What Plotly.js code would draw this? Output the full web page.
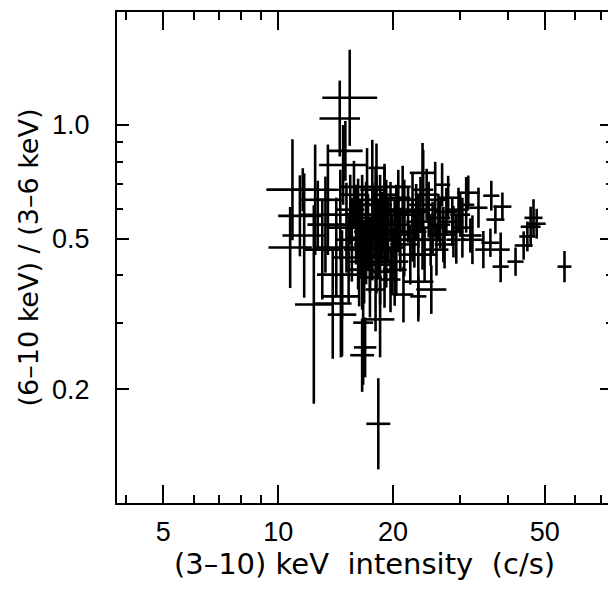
<!DOCTYPE html>
<html>
<head>
<meta charset="utf-8">
<script src="https://cdn.plot.ly/plotly-3.0.1.min.js"></script>
<style>
  html, body { margin: 0; padding: 0; background: #fff; overflow: hidden; }
  #chart { width: 625px; height: 590px; }
</style>
</head>
<body>
<div id="chart"></div>
<script>
// (3-10) keV intensity (c/s)
const intensity = [
  15.4, 14.5, 15.0, 10.9, 11.7, 12.4, 11.4, 10.75, 18.3, 16.9, 16.6, 18.5, 13.9, 14.7,
  56.3, 45.9, 47.6, 45.0, 44.0, 41.9, 46.7, 36.2, 38.7, 37.1, 38.3, 38.3, 34.5, 36.0,
  31.5, 33.5, 31.9, 23.9, 25.8, 23.3, 25.2, 23.3, 21.3, 26.9, 31.1,
  12.5, 13.5, 14.8, 17.65, 17.1, 18.1, 19.0, 21.2, 24.0, 18.0, 11.6,
  14.6, 14.7, 16.3, 18.0, 19.7, 27.1, 28.8, 30.4, 32.3, 16.7, 12.7,
  15.45, 16.0, 16.6, 17.2, 17.65, 18.3, 18.75, 19.2, 19.7, 20.2, 20.65, 21.4, 21.9, 22.5,
  23.3, 23.9, 24.8, 25.4, 26.3, 27.6, 28.6, 29.7, 16.2, 16.8, 17.4, 18.5, 19.4, 20.4,
  15.6, 15.1, 14.55, 14.2, 13.3, 13.05, 18.1, 19.0, 20.65, 22.5, 24.5, 27.9, 17.65, 19.9,
  22.2, 24.2, 26.0, 17.0, 21.4, 23.0, 16.4, 18.75, 26.6, 29.3, 15.3, 20.2, 19.2,
  16.6, 17.4, 19.0, 18.1, 19.9, 20.9, 17.0, 17.9, 16.2, 15.8, 22.75, 25.1, 27.3, 30.0,
  18.5, 20.4, 23.6
];
// (6-10 keV)/(3-6 keV) hardness ratio
const ratio = [
  1.18, 1.04, 0.854, 0.674, 0.51, 0.335, 0.575, 0.474, 0.162, 0.258, 0.246, 0.306, 0.337, 0.315,
  0.422, 0.538, 0.548, 0.507, 0.480, 0.435, 0.568, 0.650, 0.608, 0.562, 0.468, 0.422, 0.468, 0.488,
  0.662, 0.604, 0.51, 0.747, 0.634, 0.385, 0.367, 0.352, 0.356, 0.695, 0.615,
  0.634, 0.634, 0.784, 0.674, 0.634, 0.77, 0.634, 0.634, 0.674, 0.686, 0.674,
  0.352, 0.402, 0.414, 0.367, 0.390, 0.513, 0.522, 0.535, 0.497, 0.30, 0.579,
  0.597, 0.545, 0.615, 0.522, 0.579, 0.497, 0.555, 0.468, 0.589, 0.513, 0.545, 0.483, 0.579, 0.522,
  0.555, 0.497, 0.597, 0.535, 0.568, 0.589, 0.555, 0.597, 0.468, 0.435, 0.454, 0.427, 0.522, 0.435,
  0.497, 0.535, 0.579, 0.474, 0.545, 0.468, 0.615, 0.654, 0.642, 0.634, 0.654, 0.642, 0.483, 0.474,
  0.454, 0.454, 0.468, 0.568, 0.597, 0.589, 0.503, 0.528, 0.545, 0.497, 0.446, 0.414, 0.597,
  0.414, 0.395, 0.409, 0.446, 0.435, 0.497, 0.483, 0.545, 0.579, 0.654, 0.497, 0.497, 0.483, 0.579,
  0.615, 0.579, 0.615
];
// multiplicative 1-sigma error factors (intensity, ratio)
const intensityErrFactor = [
  1.18, 1.13, 1.11, 1.17, 1.14, 1.12, 1.14, 1.14, 1.075, 1.07, 1.075, 1.09, 1.12, 1.09,
  1.043, 1.062, 1.056, 1.05, 1.056, 1.05, 1.056, 1.05, 1.056, 1.056, 1.056, 1.05, 1.05, 1.056,
  1.07, 1.056, 1.07, 1.08, 1.062, 1.095, 1.095, 1.05, 1.062, 1.05, 1.05,
  1.095, 1.088, 1.156, 1.075, 1.062, 1.05, 1.056, 1.056, 1.062, 1.236, 1.243,
  1.12, 1.163, 1.062, 1.062, 1.062, 1.075, 1.062, 1.062, 1.062, 1.062, 1.115,
  1.088, 1.102, 1.075, 1.088, 1.075, 1.088, 1.075, 1.088, 1.075, 1.088, 1.075, 1.088, 1.075, 1.088,
  1.075, 1.075, 1.075, 1.075, 1.075, 1.069, 1.069, 1.062, 1.088, 1.088, 1.075, 1.075, 1.075, 1.075,
  1.102, 1.115, 1.115, 1.128, 1.115, 1.115, 1.088, 1.075, 1.075, 1.075, 1.075, 1.062, 1.075, 1.075,
  1.075, 1.075, 1.075, 1.088, 1.075, 1.075, 1.088, 1.075, 1.062, 1.062, 1.102, 1.075, 1.075,
  1.075, 1.075, 1.075, 1.075, 1.075, 1.075, 1.075, 1.075, 1.088, 1.088, 1.075, 1.075, 1.062, 1.062,
  1.075, 1.075, 1.075
];
const ratioErrFactor = [
  1.34, 1.26, 1.20, 1.36, 1.46, 1.83, 1.28, 1.28, 1.32, 1.20, 1.25, 1.26, 1.40, 1.29,
  1.10, 1.13, 1.095, 1.095, 1.09, 1.09, 1.12, 1.095, 1.09, 1.09, 1.11, 1.10, 1.12, 1.09,
  1.11, 1.13, 1.11, 1.20, 1.26, 1.275, 1.16, 1.13, 1.185, 1.14, 1.185,
  1.40, 1.40, 1.275, 1.355, 1.37, 1.16, 1.245, 1.23, 1.275, 1.13, 1.14,
  1.45, 1.31, 1.25, 1.29, 1.22, 1.185, 1.17, 1.20, 1.16, 1.46, 1.23,
  1.237, 1.275, 1.20, 1.26, 1.215, 1.275, 1.20, 1.26, 1.20, 1.237, 1.185, 1.215, 1.185, 1.20,
  1.171, 1.20, 1.185, 1.171, 1.157, 1.157, 1.157, 1.143, 1.275, 1.29, 1.26, 1.275, 1.215, 1.229,
  1.29, 1.315, 1.315, 1.355, 1.34, 1.355, 1.20, 1.185, 1.185, 1.171, 1.171, 1.143, 1.245, 1.229,
  1.20, 1.185, 1.171, 1.245, 1.20, 1.185, 1.26, 1.229, 1.157, 1.157, 1.315, 1.245, 1.20,
  1.275, 1.275, 1.245, 1.245, 1.229, 1.215, 1.275, 1.229, 1.245, 1.229, 1.185, 1.171, 1.157, 1.143,
  1.20, 1.20, 1.185
];

const xTickVals = [5, 10, 20, 50];
const xTickText = ['5', '10', '20', '50'];
const xMinorVals = [4, 6, 7, 8, 9, 30, 40, 60, 70];
const yTickVals = [0.2, 0.5, 1.0];
const yTickText = ['0.2', '0.5', '1.0'];
const yMinorVals = [0.3, 0.4, 0.6, 0.7, 0.8, 0.9];

const xPlus = intensity.map((v, i) => v * (intensityErrFactor[i] - 1));
const xMinus = intensity.map((v, i) => v * (1 - 1 / intensityErrFactor[i]));
const yPlus = ratio.map((v, i) => v * (ratioErrFactor[i] - 1));
const yMinus = ratio.map((v, i) => v * (1 - 1 / ratioErrFactor[i]));

const trace = {
  type: 'scatter',
  mode: 'markers',
  x: intensity,
  y: ratio,
  marker: { size: 1, color: 'rgba(0,0,0,0)' },
  error_x: { type: 'data', symmetric: false, array: xPlus, arrayminus: xMinus,
             color: '#000', thickness: 2.6, width: 0 },
  error_y: { type: 'data', symmetric: false, array: yPlus, arrayminus: yMinus,
             color: '#000', thickness: 2.6, width: 0 },
  hoverinfo: 'skip',
  showlegend: false
};

const tickFam = '"Liberation Sans", Arial, sans-serif';
const titleFam = '"DejaVu Sans", "Liberation Sans", sans-serif';

const layout = {
  width: 625,
  height: 590,
  margin: { l: 117, r: 13, t: 12, b: 87 },
  paper_bgcolor: '#fff',
  plot_bgcolor: '#fff',
  showlegend: false,
  font: { family: tickFam, color: '#000', size: 26 },
  xaxis: {
    type: 'log',
    range: [Math.log10(3.78), Math.log10(75)],
    tickmode: 'array', tickvals: xTickVals, ticktext: xTickText,
    ticks: 'inside', ticklen: 18, tickwidth: 2, tickcolor: '#000',
    minor: { tickmode: 'array', tickvals: xMinorVals, ticks: 'inside', ticklen: 8, tickwidth: 2, tickcolor: '#000', showgrid: false },
    showline: true, linewidth: 2, linecolor: '#000', mirror: 'ticks',
    showgrid: false, zeroline: false,
    tickfont: { size: 27, family: tickFam },
    ticklabelstandoff: 4,
    title: { text: '(3–10) keV  intensity  (c/s)', font: { size: 29, family: titleFam }, standoff: 3 }
  },
  yaxis: {
    type: 'log',
    range: [-1, Math.log10(1.99)],
    tickmode: 'array', tickvals: yTickVals, ticktext: yTickText,
    ticks: 'inside', ticklen: 12, tickwidth: 2, tickcolor: '#000',
    minor: { tickmode: 'array', tickvals: yMinorVals, ticks: 'inside', ticklen: 6, tickwidth: 2, tickcolor: '#000', showgrid: false },
    showline: true, linewidth: 2, linecolor: '#000', mirror: 'ticks',
    showgrid: false, zeroline: false,
    tickfont: { size: 27, family: tickFam },
    ticklabelstandoff: 20,
    title: { text: '(6–10 keV) / (3–6 keV)', font: { size: 27, family: titleFam }, standoff: 6 }
  }
};

Plotly.newPlot('chart', [trace], layout, { displayModeBar: false, staticPlot: true });
</script>
</body>
</html>
